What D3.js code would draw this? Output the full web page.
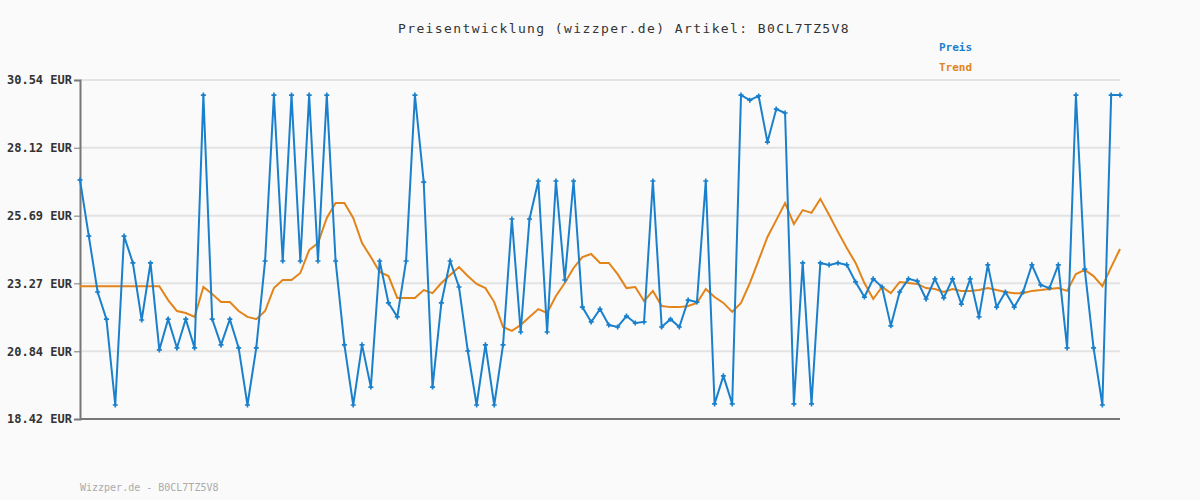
<!DOCTYPE html>
<html>
<head>
<meta charset="utf-8" />
<script src="https://cdn.jsdelivr.net/npm/d3@7"></script>
<style>
body { margin:0; background:#fafafa; }
text { font-family:"DejaVu Sans Mono", monospace; }
.grid line { stroke:#e3e3e3; stroke-width:2px; }
.preis { fill:none; stroke:#1a80cc; stroke-width:2px; }
.trend { fill:none; stroke:#e3841a; stroke-width:2px; }
</style>
</head>
<body>
<div id="chart"></div>
<script>
var width = 1200, height = 500;
var margin = {left:80, right:80, top:80, bottom:81};

var yTicks = [18.42, 20.84, 23.27, 25.69, 28.12, 30.54];

// Preis
var preis = [26.97,24.96,22.96,21.99,18.92,24.96,24.00,21.96,24.00,20.89,
  21.99,20.96,21.99,20.96,30.00,21.99,21.07,21.99,20.96,18.92,
  20.96,24.07,30.00,24.07,30.00,24.07,30.00,24.07,30.00,24.07,
  21.07,18.92,21.07,19.56,24.07,22.57,22.07,24.07,30.00,26.89,
  19.56,22.57,24.07,23.14,20.85,18.92,21.07,18.92,21.07,25.57,
  21.53,25.57,26.93,21.53,26.93,23.39,26.93,22.42,21.89,22.35,
  21.78,21.71,22.10,21.85,21.89,26.93,21.71,21.99,21.71,22.67,
  22.60,26.93,18.96,19.96,18.96,30.00,29.82,29.97,28.32,29.50,
  29.36,18.96,24.00,18.96,24.00,23.93,24.00,23.93,23.32,22.78,
  23.43,23.14,21.75,22.96,23.43,23.35,22.71,23.43,22.75,23.43,
  22.53,23.43,22.07,23.93,22.42,22.96,22.42,22.96,23.93,23.21,
  23.10,23.93,20.96,30.00,23.78,20.96,18.92,30.00,30.00];

// Trend
var trend = [23.17,23.17,23.17,23.17,23.17,23.17,23.17,23.17,23.17,23.17,
  22.67,22.28,22.21,22.07,23.14,22.89,22.60,22.60,22.28,22.07,
  21.99,22.28,23.10,23.39,23.39,23.64,24.46,24.71,25.61,26.14,
  26.14,25.61,24.71,24.21,23.68,23.53,22.75,22.75,22.75,23.03,
  22.92,23.28,23.57,23.85,23.53,23.25,23.10,22.60,21.71,21.57,
  21.78,22.07,22.35,22.21,22.82,23.28,23.82,24.21,24.32,24.00,
  24.00,23.60,23.10,23.14,22.64,23.00,22.46,22.42,22.42,22.46,
  22.57,23.07,22.78,22.57,22.25,22.57,23.28,24.10,24.93,25.53,
  26.14,25.39,25.89,25.79,26.29,25.71,25.11,24.53,24.00,23.28,
  22.71,23.14,22.92,23.32,23.28,23.25,23.10,23.07,22.96,23.07,
  23.00,23.00,23.03,23.10,23.03,22.96,22.92,22.92,23.00,23.03,
  23.07,23.10,23.00,23.60,23.75,23.53,23.17,23.85,24.50];

var svg = d3.select("#chart").append("svg")
  .attr("width", width).attr("height", height);

svg.append("rect").attr("width", width).attr("height", height).attr("fill", "#fafafa");

var x = d3.scaleLinear().domain([0, preis.length - 1])
  .range([margin.left, width - margin.right]);
var y = d3.scaleLinear().domain([18.42, 30.54])
  .range([height - margin.bottom, margin.top]);

// gridlines
svg.append("g").attr("class", "grid")
  .selectAll("line").data(yTicks.slice(1)).enter().append("line")
  .attr("x1", margin.left).attr("x2", width - margin.right)
  .attr("y1", function(d){ return y(d); }).attr("y2", function(d){ return y(d); });

// y axis
var yAxis = svg.append("g")
  .attr("transform", "translate(" + margin.left + ",0)")
  .call(d3.axisLeft(y).tickValues(yTicks).tickSize(6)
    .tickFormat(function(d){ return d.toFixed(2) + " EUR"; }));
yAxis.select(".domain").attr("stroke", "#777").attr("stroke-width", 2);
yAxis.selectAll(".tick line").attr("stroke", "#777").attr("stroke-width", 1);
yAxis.selectAll("text").attr("font-size", 12).attr("font-weight", "bold")
  .attr("fill", "#333").attr("font-family", "DejaVu Sans Mono").attr("x", -8);

// x axis line
svg.append("line")
  .attr("x1", margin.left).attr("x2", width - margin.right)
  .attr("y1", y(18.42)).attr("y2", y(18.42))
  .attr("stroke", "#777").attr("stroke-width", 2);

var line = d3.line()
  .x(function(d, i){ return x(i); })
  .y(function(d){ return y(d); });

svg.append("path").datum(trend).attr("class", "trend").attr("d", line);
svg.append("path").datum(preis).attr("class", "preis").attr("d", line);

svg.append("g").selectAll("path").data(preis).enter().append("path")
  .attr("d", d3.symbol().type(d3.symbolCross).size(14))
  .attr("transform", function(d, i){ return "translate(" + x(i) + "," + y(d) + ")"; })
  .attr("fill", "#1a80cc");

// title
svg.append("text").attr("x", 624).attr("y", 33).attr("text-anchor", "middle")
  .attr("font-size", 13).attr("letter-spacing", 1.4).attr("fill", "#333")
  .text("Preisentwicklung (wizzper.de) Artikel: B0CL7TZ5V8");

// legend
svg.append("text").attr("x", 939).attr("y", 51).attr("font-size", 11)
  .attr("font-weight", "bold").attr("fill", "#1a80cc").text("Preis");
svg.append("text").attr("x", 939).attr("y", 71).attr("font-size", 11)
  .attr("font-weight", "bold").attr("fill", "#e3841a").text("Trend");

// footer
svg.append("text").attr("x", 80).attr("y", 491).attr("font-size", 10)
  .attr("fill", "#aaa").text("Wizzper.de - B0CL7TZ5V8");
</script>
</body>
</html>
